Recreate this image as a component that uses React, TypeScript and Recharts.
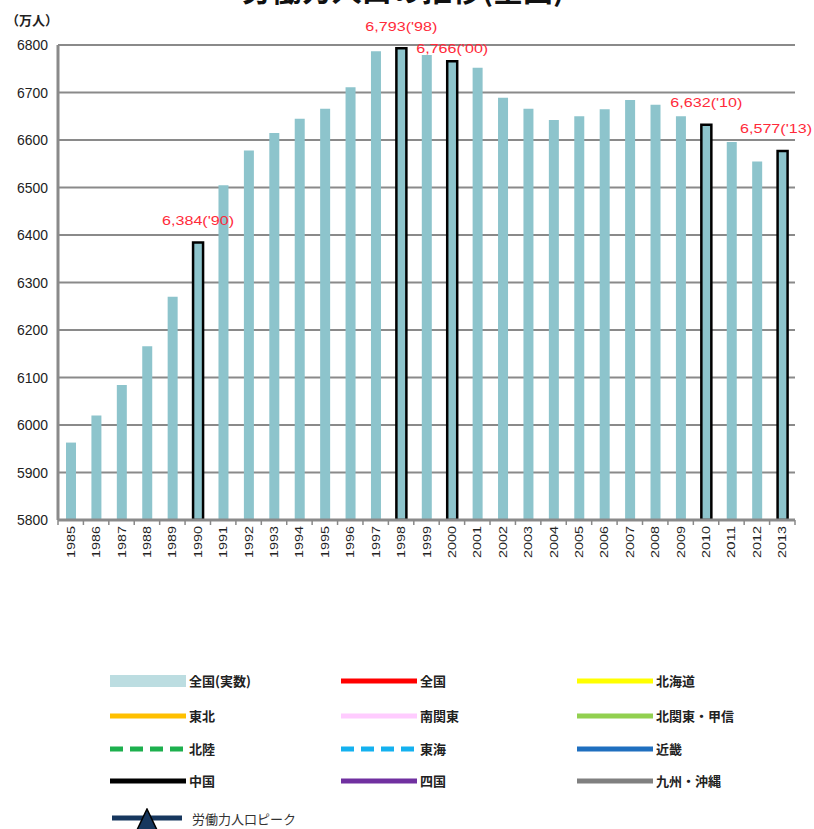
import { BarChart, Bar, Cell, XAxis, YAxis, CartesianGrid, LabelList } from 'recharts';

const years = [
  '1985', '1986', '1987', '1988', '1989', '1990', '1991', '1992', '1993', '1994',
  '1995', '1996', '1997', '1998', '1999', '2000', '2001', '2002', '2003', '2004',
  '2005', '2006', '2007', '2008', '2009', '2010', '2011', '2012', '2013',
];
// 労働力人口（万人）
const laborForce = [
  5963, 6020, 6084, 6166, 6270, 6384, 6505, 6578, 6615, 6645,
  6666, 6711, 6787, 6793, 6779, 6766, 6752, 6689, 6666, 6642,
  6650, 6665, 6684, 6674, 6650, 6632, 6596, 6555, 6577,
];
const peakYears = ['1990', '1998', '2000', '2010', '2013'];
const yTicks = [5800, 5900, 6000, 6100, 6200, 6300, 6400, 6500, 6600, 6700, 6800];

const legendRows = [
  [
    { name: '全国(実数)', color: '#bcdde1', kind: 'box' },
    { name: '全国', color: '#ff0000', kind: 'line' },
    { name: '北海道', color: '#ffff00', kind: 'line' },
  ],
  [
    { name: '東北', color: '#ffc000', kind: 'line' },
    { name: '南関東', color: '#ffccff', kind: 'line' },
    { name: '北関東・甲信', color: '#92d050', kind: 'line' },
  ],
  [
    { name: '北陸', color: '#1db04e', kind: 'dash' },
    { name: '東海', color: '#14b1ef', kind: 'dash' },
    { name: '近畿', color: '#1f6fbf', kind: 'line' },
  ],
  [
    { name: '中国', color: '#000000', kind: 'line' },
    { name: '四国', color: '#7030a0', kind: 'line' },
    { name: '九州・沖縄', color: '#808080', kind: 'line' },
  ],
];

const data = years.map((year, i) => ({ year, value: laborForce[i] }));

const W = 814;
const H = 829;
const margin = { top: 45, right: 19, left: 8, bottom: 249 };
const yAxisWidth = 50;
const band = (W - margin.left - margin.right - yAxisWidth) / years.length;

const numFont = '"Liberation Sans", Arial, sans-serif';
const jpFont = '"Noto Sans CJK JP", "Noto Sans", sans-serif';

const YearTick = (props: any) => {
  const { x, y, payload, index } = props;
  const last = index === years.length - 1;
  return (
    <g>
      <line x1={x - band / 2} x2={x - band / 2} y1={y - 8} y2={y - 3} stroke="#888" strokeWidth={1.5} />
      {last && <line x1={x + band / 2} x2={x + band / 2} y1={y - 8} y2={y - 3} stroke="#888" strokeWidth={1.5} />}
      <text
        transform={`translate(${x + 4},${y - 2}) rotate(-90)`}
        textAnchor="end"
        fontSize={11}
        fontFamily={numFont}
        fill="#222"
        textLength={32}
        lengthAdjust="spacingAndGlyphs"
      >
        {payload.value}
      </text>
    </g>
  );
};

const ValueTick = (props: any) => {
  const { x, y, payload } = props;
  return (
    <text
      x={x - 2}
      y={y + 5}
      textAnchor="end"
      fontSize={14}
      fontFamily={numFont}
      fill="#222"
      textLength={31}
      lengthAdjust="spacingAndGlyphs"
    >
      {payload.value}
    </text>
  );
};

const PeakLabel = (props: any) => {
  const { x, y, width, index } = props;
  const year = years[index];
  if (!peakYears.includes(year)) return null;
  const value = laborForce[index];
  const text = `${value.toLocaleString('en-US')}('${year.slice(2)})`;
  // 2000 sits right next to the 1998 label, so it is kept lower
  const lift = year === '2000' ? 13 : 22;
  const cx = Math.min(x + width / 2, W - 38);
  return (
    <text
      x={cx}
      y={y - lift}
      textAnchor="middle"
      dominantBaseline="central"
      fontSize={13}
      fontFamily={numFont}
      fill="#ff2a3a"
      textLength={72}
      lengthAdjust="spacingAndGlyphs"
    >
      {text}
    </text>
  );
};

const Swatch = ({ color, kind }: { color: string; kind: string }) => (
  <svg width={76} height={14} style={{ display: 'block' }}>
    {kind === 'box' ? (
      <rect x={0} y={1} width={76} height={12} fill={color} />
    ) : (
      <line
        x1={0}
        x2={76}
        y1={7}
        y2={7}
        stroke={color}
        strokeWidth={5}
        strokeDasharray={kind === 'dash' ? '13 7' : undefined}
      />
    )}
  </svg>
);

const colLeft = [110, 341, 577];
const rowTop = [671, 706, 739, 771];

const RegionLegend = () => (
  <>
    {legendRows.map((row, r) =>
      row.map((item, c) => (
        <div
          key={`${r}-${c}`}
          style={{
            position: 'absolute',
            left: colLeft[c],
            top: rowTop[r],
            display: 'flex',
            alignItems: 'center',
            gap: 3,
            fontFamily: jpFont,
            fontSize: 13,
            fontWeight: 700,
            color: '#222',
          }}
        >
          <Swatch color={item.color} kind={item.kind} />
          <span>{item.name}</span>
        </div>
      ))
    )}
    <div
      style={{
        position: 'absolute',
        left: 112,
        top: 808,
        display: 'flex',
        alignItems: 'center',
        gap: 10,
        fontFamily: jpFont,
        fontSize: 13,
        color: '#333',
      }}
    >
      <svg width={70} height={24} style={{ display: 'block' }}>
        <line x1={0} x2={70} y1={10} y2={10} stroke="#17375e" strokeWidth={5} />
        <polygon points="35,1 45,22 25,22" fill="#17375e" stroke="#000" strokeWidth={1.5} />
      </svg>
      <span style={{ marginTop: -4 }}>労働力人口ピーク</span>
    </div>
  </>
);

export default function App() {
  return (
    <div style={{ position: 'absolute', left: 0, top: 0, width: W, height: H, background: '#fff', overflow: 'hidden' }}>
      <div
        style={{
          position: 'absolute',
          left: 0,
          width: 806,
          top: -34,
          textAlign: 'center',
          fontFamily: jpFont,
          fontSize: 30,
          fontWeight: 700,
          color: '#111',
        }}
      >
        労働力人口の推移(全国)
      </div>
      <div
        style={{
          position: 'absolute',
          left: 6,
          top: 10,
          fontFamily: jpFont,
          fontSize: 13,
          fontWeight: 700,
          color: '#222',
        }}
      >
        （万人）
      </div>
      <BarChart width={W} height={H} data={data} margin={margin} barCategoryGap={0}>
        <CartesianGrid vertical={false} stroke="#8a8a8a" strokeWidth={2} />
        <XAxis
          dataKey="year"
          interval={0}
          height={60}
          tickLine={false}
          axisLine={{ stroke: '#8a8a8a', strokeWidth: 3 }}
          tick={<YearTick />}
        />
        <YAxis
          domain={[5800, 6800]}
          ticks={yTicks}
          allowDataOverflow
          width={yAxisWidth}
          tickLine={false}
          axisLine={{ stroke: '#8a8a8a', strokeWidth: 3 }}
          tick={<ValueTick />}
        />
        <Bar dataKey="value" barSize={10} fill="#8dc4cc" isAnimationActive={false}>
          {data.map((d) => {
            const peak = peakYears.includes(d.year);
            return (
              <Cell
                key={d.year}
                fill="#8dc4cc"
                stroke={peak ? '#000' : 'none'}
                strokeWidth={peak ? 2.5 : 0}
              />
            );
          })}
          <LabelList dataKey="value" content={<PeakLabel />} />
        </Bar>
      </BarChart>
      <RegionLegend />
    </div>
  );
}
